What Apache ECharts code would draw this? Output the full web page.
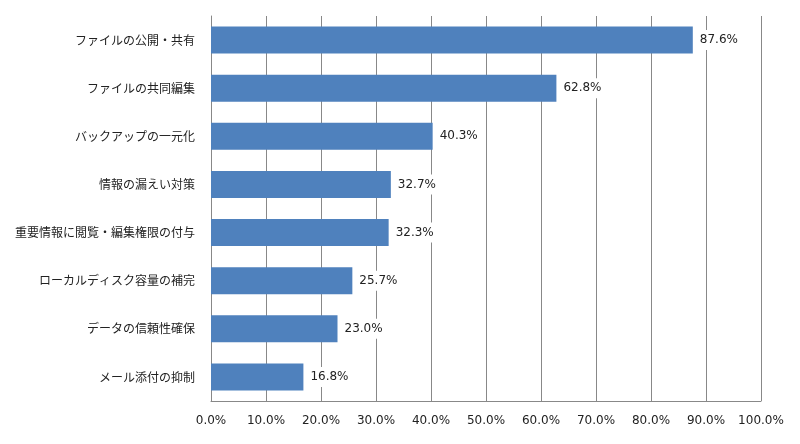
<!DOCTYPE html>
<html>
<head>
<meta charset="utf-8">
<script src="https://cdn.jsdelivr.net/npm/echarts@6/dist/echarts.min.js"></script>
<style>
  html, body { margin: 0; padding: 0; background: #fff; }
  #main { width: 800px; height: 444px; }
</style>
</head>
<body>
<div id="main"></div>
<script>
// 上から順の項目
var categories = [
    'ファイルの公開・共有',
    'ファイルの共同編集',
    'バックアップの一元化',
    '情報の漏えい対策',
    '重要情報に閲覧・編集権限の付与',
    'ローカルディスク容量の補完',
    'データの信頼性確保',
    'メール添付の抑制'
];
var values = [87.6, 62.8, 40.3, 32.7, 32.3, 25.7, 23.0, 16.8];

var font = '"Noto Sans CJK JP", "Noto Sans", sans-serif';
var numFont = '"DejaVu Sans", "Noto Sans CJK JP", sans-serif';

var myChart = echarts.init(document.getElementById('main'));
var option = {
    animation: false,
    grid: { left: 211, right: 39, top: 16, bottom: 43 },
    xAxis: {
        type: 'value',
        min: 0,
        max: 100,
        interval: 10,
        axisLine: { show: true, lineStyle: { color: '#888', width: 1 } },
        axisTick: { show: false },
        splitLine: { show: true, lineStyle: { color: '#888', width: 1 } },
        axisLabel: {
            color: '#222',
            fontFamily: numFont,
            fontSize: 12,
            margin: 14,
            formatter: function (v) { return v.toFixed(1) + '%'; }
        }
    },
    yAxis: {
        type: 'category',
        data: categories,
        inverse: true,
        axisLine: { show: true, lineStyle: { color: '#888', width: 1 } },
        axisTick: { show: false },
        axisLabel: { color: '#222', fontFamily: font, fontSize: 12, margin: 16 }
    },
    series: [{
        type: 'bar',
        data: values,
        barCategoryGap: '44%',
        itemStyle: { color: '#4F81BD' },
        label: {
            show: true,
            position: 'right',
            distance: 4,
            color: '#222',
            fontFamily: numFont,
            fontSize: 12,
            backgroundColor: '#fff',
            padding: [4, 3],
            formatter: function (p) { return p.value.toFixed(1) + '%'; }
        }
    }]
};
myChart.setOption(option);
</script>
</body>
</html>
